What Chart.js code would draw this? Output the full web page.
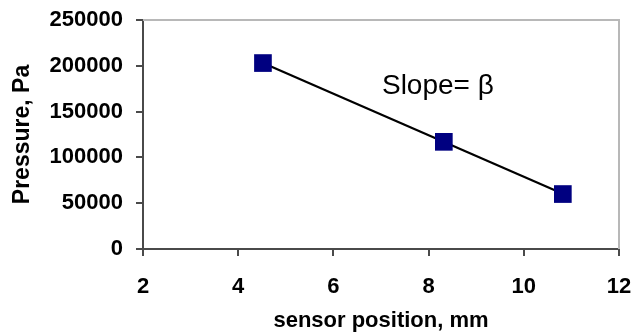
<!DOCTYPE html>
<html>
<head>
<meta charset="utf-8">
<script src="https://cdn.jsdelivr.net/npm/chart.js@4/dist/chart.umd.min.js"></script>
<style>
  html, body { margin: 0; padding: 0; background: #fff; }
  #wrap { width: 633px; height: 336px; }
</style>
</head>
<body>
<div id="wrap"><canvas id="pressureChart"></canvas></div>
<script>
// Measured values
const positions = [4.52, 8.32, 10.82];
const pressures = [203000, 117000, 60000];

// Fitted line end points
const fitX = [4.52, 10.82];
const fitY = [203000, 60300];

// Axis ticks
const xTicks = [2, 4, 6, 8, 10, 12];
const yTicks = [0, 50000, 100000, 150000, 200000, 250000];

const slopeLabel = 'Slope= \u03b2';
const slopeAt = { x: 7.02, y: 178000 };

const axisColor = '#4a4a4a';
const frameColor = '#b8b8b8';
const fontFamily = '"Liberation Sans", Arial, sans-serif';

// Light grey frame on top and right of plot area + slope text
const framePlugin = {
    id: 'framePlugin',
    afterDraw(chart) {
        const { ctx, chartArea, scales } = chart;
        ctx.save();
        ctx.strokeStyle = frameColor;
        ctx.lineWidth = 2;
        ctx.beginPath();
        ctx.moveTo(chartArea.left, chartArea.top);
        ctx.lineTo(chartArea.right, chartArea.top);
        ctx.lineTo(chartArea.right, chartArea.bottom);
        ctx.stroke();

        ctx.fillStyle = '#000';
        ctx.font = '28px ' + fontFamily;
        ctx.textAlign = 'left';
        ctx.textBaseline = 'middle';
        ctx.fillText(slopeLabel, scales.x.getPixelForValue(slopeAt.x), scales.y.getPixelForValue(slopeAt.y));
        ctx.restore();
    }
};

const ctx = document.getElementById('pressureChart').getContext('2d');
const chart = new Chart(ctx, {
    type: 'scatter',
    data: {
        datasets: [
            {
                label: 'fit',
                data: fitX.map((x, i) => ({ x: x, y: fitY[i] })),
                showLine: true,
                borderColor: '#000',
                borderWidth: 2.2,
                pointRadius: 0,
                order: 2
            },
            {
                label: 'pressure',
                data: positions.map((x, i) => ({ x: x, y: pressures[i] })),
                pointStyle: 'rect',
                pointRadius: 12.5,
                backgroundColor: '#000080',
                borderColor: '#000080',
                borderWidth: 0,
                order: 1
            }
        ]
    },
    options: {
        responsive: true,
        maintainAspectRatio: false,
        animation: false,
        layout: {
            padding: { top: 20, right: 14, bottom: 0, left: 0 }
        },
        scales: {
            x: {
                type: 'linear',
                min: 2,
                max: 12,
                afterBuildTicks(scale) {
                    scale.ticks = xTicks.map(v => ({ value: v }));
                },
                afterFit(scale) {
                    scale.height = 87;
                    scale.paddingLeft = 0;
                    scale.paddingRight = 0;
                },
                border: { color: axisColor, width: 2 },
                grid: { drawOnChartArea: false, color: axisColor, lineWidth: 2, tickLength: 7 },
                ticks: {
                    color: '#000',
                    font: { family: fontFamily, size: 22, weight: 'bold' },
                    padding: 18,
                    maxRotation: 0
                },
                title: {
                    display: true,
                    text: 'sensor position, mm',
                    color: '#000',
                    font: { family: fontFamily, size: 22, weight: 'bold' },
                    padding: { top: 0, bottom: 2 }
                }
            },
            y: {
                min: 0,
                max: 250000,
                afterBuildTicks(scale) {
                    scale.ticks = yTicks.map(v => ({ value: v }));
                },
                afterFit(scale) {
                    scale.width = 143;
                    scale.paddingTop = 0;
                    scale.paddingBottom = 0;
                },
                border: { color: axisColor, width: 2 },
                grid: { drawOnChartArea: false, color: axisColor, lineWidth: 2, tickLength: 7 },
                ticks: {
                    color: '#000',
                    font: { family: fontFamily, size: 22, weight: 'bold' },
                    padding: 13,
                    callback: function(value) {
                        return String(value);
                    }
                },
                title: {
                    display: true,
                    text: 'Pressure, Pa',
                    color: '#000',
                    font: { family: fontFamily, size: 23, weight: 'bold' },
                    padding: { top: 9, bottom: 0 }
                }
            }
        },
        plugins: {
            legend: { display: false },
            tooltip: { enabled: false }
        }
    },
    plugins: [framePlugin]
});
</script>
</body>
</html>
